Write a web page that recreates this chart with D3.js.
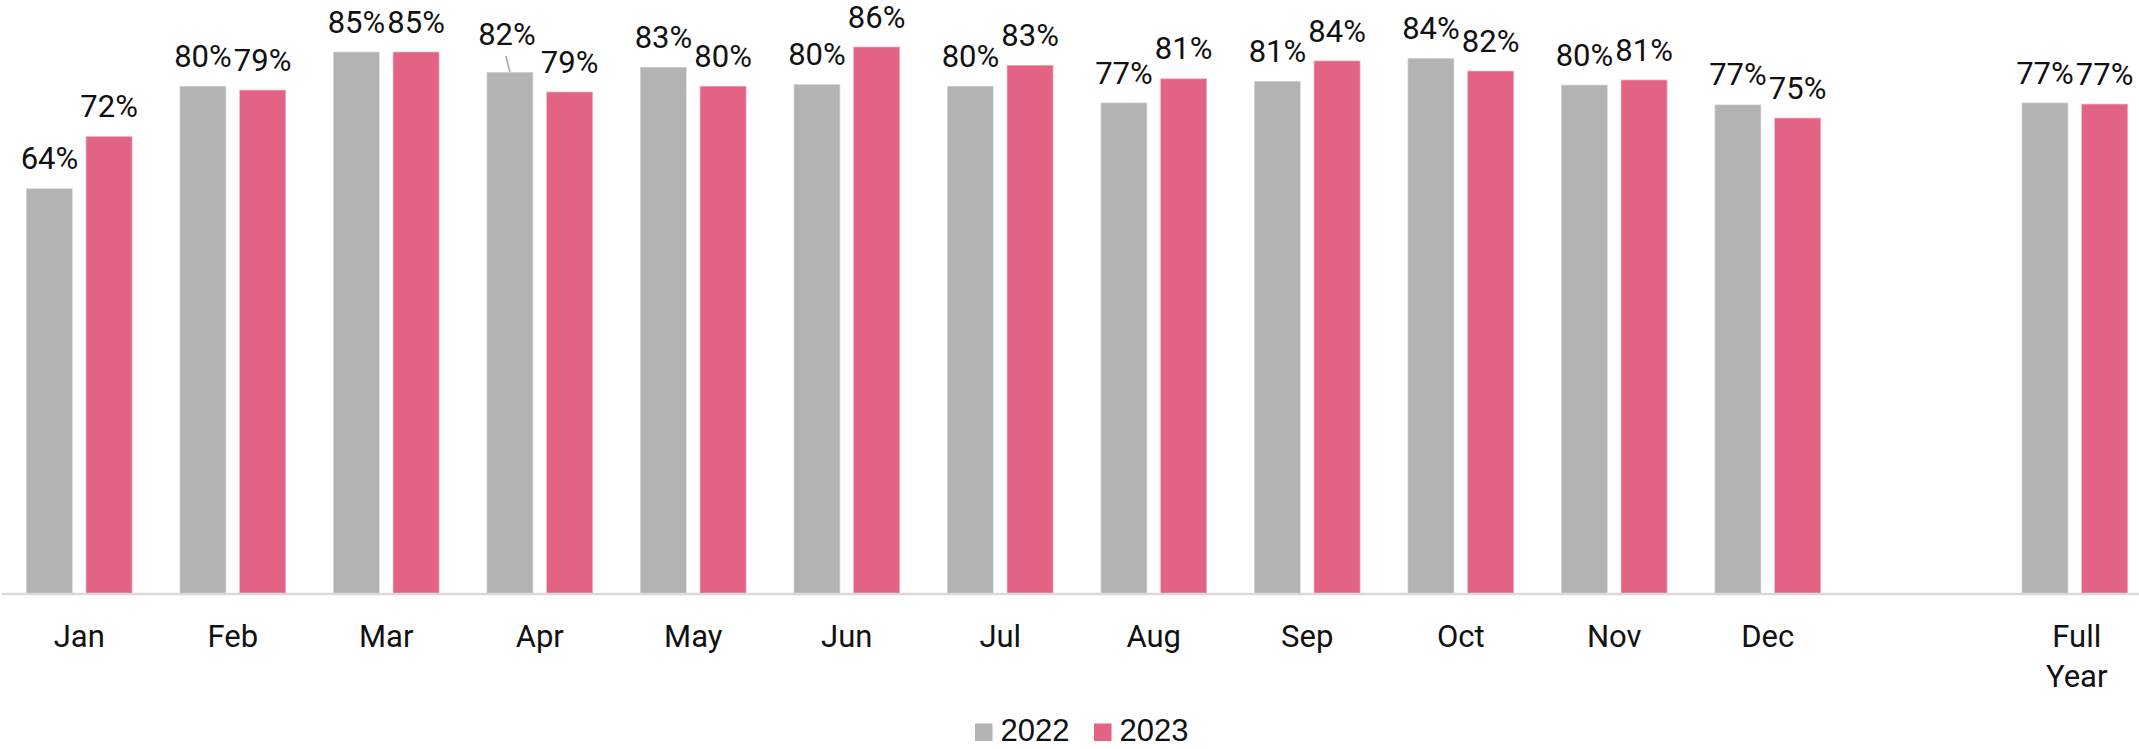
<!DOCTYPE html>
<html>
<head>
<meta charset="utf-8">
<script src="https://cdn.jsdelivr.net/npm/d3@7"></script>
<style>
  html, body { margin: 0; padding: 0; background: #fff; }
  svg { display: block; }
</style>
</head>
<body>
<div id="chart"></div>
<script>
const categories = ['Jan', 'Feb', 'Mar', 'Apr', 'May', 'Jun', 'Jul', 'Aug', 'Sep', 'Oct', 'Nov', 'Dec', '', 'Full Year']
const years = ['2022', '2023']
const values2022 = [0.639, 0.800, 0.854, 0.822, 0.830, 0.803, 0.800, 0.774, 0.808, 0.844, 0.802, 0.771, null, 0.774]
const values2023 = [0.721, 0.794, 0.854, 0.791, 0.800, 0.862, 0.833, 0.812, 0.840, 0.824, 0.810, 0.750, null, 0.772]
const colors = ['#b3b3b3', '#e26384']

const width = 2139
const height = 749
const margin = { top: 22.5, left: 2.5, right: -12.5, bottom: 155 }

const svg = d3
  .select('#chart')
  .append('svg')
  .attr('width', width)
  .attr('height', height)

const x0 = d3
  .scaleBand()
  .domain(categories)
  .range([margin.left, width - margin.right])
  .padding(0)

const x1 = d3
  .scaleBand()
  .domain(years)
  .range([0, x0.bandwidth()])
  .paddingInner(0.218)
  .paddingOuter(0.395)

const y = d3
  .scaleLinear()
  .domain([0, 0.9])
  .range([height - margin.bottom, margin.top])

const color = d3.scaleOrdinal().domain(years).range(colors)

const rows = []
categories.forEach(function(c, i) {
  ;[values2022[i], values2023[i]].forEach(function(v, j) {
    if (v !== null) rows.push({ cat: c, year: years[j], value: v })
  })
})

const fmt = d3.format('.0%')
const font = 'Roboto, "Liberation Sans", sans-serif'

// bars
svg
  .selectAll('.bar')
  .data(rows)
  .enter()
  .append('rect')
  .attr('class', 'bar')
  .attr('x', d => x0(d.cat) + x1(d.year))
  .attr('y', d => y(d.value))
  .attr('width', x1.bandwidth())
  .attr('height', d => y(0) - y(d.value))
  .attr('fill', d => color(d.year))
  .attr('stroke', '#ffffff')
  .attr('stroke-opacity', 0.45)
  .attr('stroke-width', 1.5)

// axis line
const xAxis = d3.axisBottom(x0).tickSize(0).tickFormat('')
svg
  .append('g')
  .attr('transform', `translate(0,${y(0)})`)
  .call(xAxis)
  .call(g => g.select('.domain').attr('stroke', '#d9d9d9').attr('stroke-width', 2.5).attr('d', `M${margin.left - 0.5},0H${width}`))

// category labels
svg
  .selectAll('.tick-label')
  .data(categories.filter(c => c !== ''))
  .enter()
  .append('text')
  .attr('class', 'tick-label')
  .attr('x', d => x0(d) + x0.bandwidth() / 2)
  .attr('y', y(0) + 53)
  .attr('text-anchor', 'middle')
  .attr('font-family', font)
  .attr('font-size', 31)
  .attr('fill', '#111')
  .each(function(d) {
    const words = d.split(' ')
    const t = d3.select(this)
    words.forEach(function(w, i) {
      t.append('tspan')
        .attr('x', x0(d) + x0.bandwidth() / 2 + (words.length > 1 ? 2 : 0))
        .attr('dy', i === 0 ? 0 : 40)
        .text(w)
    })
  })

// label nudges (leader line for Apr 2022)
const nudge = { 'Apr-2022': { dx: -3, dy: -8 } }

svg
  .selectAll('.value-label')
  .data(rows)
  .enter()
  .append('text')
  .attr('class', 'value-label')
  .attr('x', function(d) {
    const n = nudge[d.cat + '-' + d.year]
    return x0(d.cat) + x1(d.year) + x1.bandwidth() / 2 + (n ? n.dx : 0)
  })
  .attr('y', function(d) {
    const n = nudge[d.cat + '-' + d.year]
    return y(d.value) - 19 + (n ? n.dy : 0)
  })
  .attr('text-anchor', 'middle')
  .attr('font-family', font)
  .attr('font-size', 31)
  .attr('fill', '#111')
  .text(d => fmt(d.value))

svg
  .selectAll('.leader')
  .data(rows.filter(d => nudge[d.cat + '-' + d.year]))
  .enter()
  .append('line')
  .attr('class', 'leader')
  .attr('x1', d => x0(d.cat) + x1(d.year) + x1.bandwidth() / 2 + nudge[d.cat + '-' + d.year].dx - 1)
  .attr('y1', d => y(d.value) - 19 + nudge[d.cat + '-' + d.year].dy + 11)
  .attr('x2', d => x0(d.cat) + x1(d.year) + x1.bandwidth() / 2)
  .attr('y2', d => y(d.value))
  .attr('stroke', '#a6a6a6')
  .attr('stroke-width', 1.5)

// legend
const legend = svg
  .append('g')
  .attr('transform', 'translate(975,741)')

const items = legend
  .selectAll('.legend-item')
  .data(years)
  .enter()
  .append('g')
  .attr('class', 'legend-item')
  .attr('transform', (d, i) => `translate(${i * 119},0)`)

items
  .append('rect')
  .attr('x', 0)
  .attr('y', -17.5)
  .attr('width', 17.5)
  .attr('height', 17.5)
  .attr('fill', d => color(d))

items
  .append('text')
  .attr('x', 25.5)
  .attr('y', 0)
  .attr('font-family', '"Liberation Sans", Arial, sans-serif')
  .attr('font-size', 31)
  .attr('fill', '#111')
  .text(d => d)
</script>
</body>
</html>
